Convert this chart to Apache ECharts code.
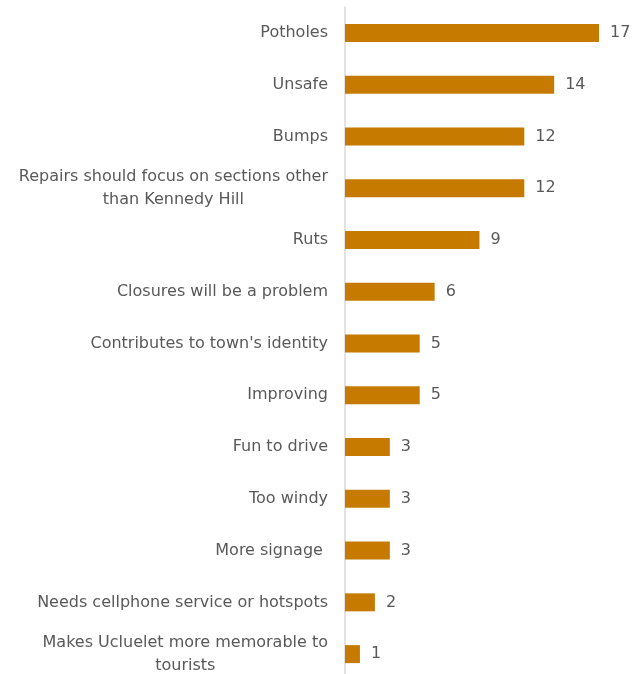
<!DOCTYPE html>
<html>
<head>
<meta charset="utf-8">
<script src="https://cdn.jsdelivr.net/npm/echarts@6/dist/echarts.min.js"></script>
<style>html,body{margin:0;padding:0;background:#fff;overflow:hidden}#c{width:636px;height:690px}</style>
</head>
<body>
<div id="c"></div>
<script>
const categories = [
  "Potholes",
  "Unsafe",
  "Bumps",
  "Repairs should focus on sections other\nthan Kennedy Hill",
  "Ruts",
  "Closures will be a problem",
  "Contributes to town's identity",
  "Improving",
  "Fun to drive",
  "Too windy",
  "More signage ",
  "Needs cellphone service or hotspots",
  "Makes Ucluelet more memorable to\ntourists"
];
const values = [17, 14, 12, 12, 9, 6, 5, 5, 3, 3, 3, 2, 1];

const FONT = "'DejaVu Sans'";
const chart = echarts.init(document.getElementById('c'), null, {renderer: 'canvas'});
chart.setOption({
  animation: false,
  grid: {left: 345, right: 37, top: 7, height: 673, containLabel: false},
  xAxis: {
    type: 'value', min: 0, max: 17, show: false
  },
  yAxis: {
    type: 'category', data: categories, inverse: true,
    axisLine: {show: true, lineStyle: {color: '#D9D9D9', width: 1.5}},
    axisTick: {show: false},
    axisLabel: {
      margin: 17, color: '#595959', fontFamily: FONT, fontSize: 16,
      formatter: v => v.split('\n').map(l => '{c|' + l + '}').join('\n'),
      rich: {c: {align: 'center', color: '#595959', fontFamily: FONT, fontSize: 16, lineHeight: 23}}
    }
  },
  series: [{
    type: 'bar', data: values, barWidth: 18,
    itemStyle: {color: '#C67B00'},
    label: {show: true, position: 'right', distance: 11, color: '#595959', fontFamily: FONT, fontSize: 16}
  }]
});
</script>
</body>
</html>
